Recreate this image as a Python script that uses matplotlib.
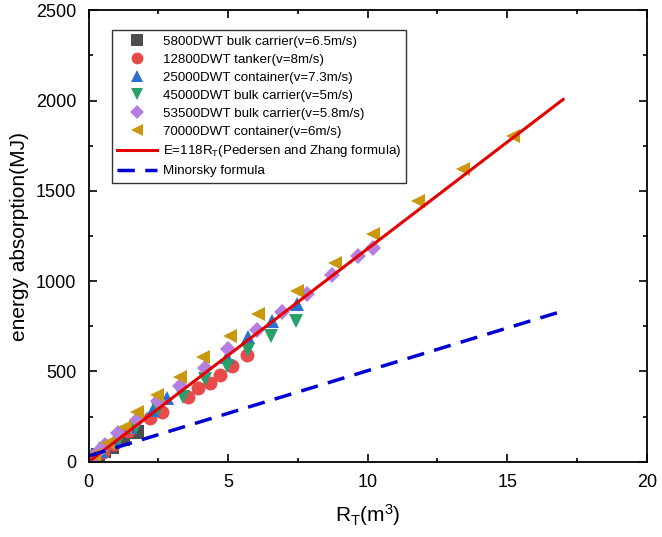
import numpy as np
import matplotlib
matplotlib.use("Agg")
import matplotlib.pyplot as plt
from matplotlib.ticker import MultipleLocator

plt.rcParams['font.family'] = ['Liberation Sans', 'DejaVu Sans']
plt.rcParams['mathtext.default'] = 'regular'

# 5800DWT bulk carrier
x_5800 = [0.15, 0.35, 0.55, 0.82, 1.22, 1.72]
y_5800 = [15, 40, 62, 83, 128, 167]
# 12800DWT tanker
x_12800 = [0.2, 0.5, 0.9, 1.4, 2.2, 2.62, 3.55, 3.91, 4.34, 4.7, 5.13, 5.66]
y_12800 = [20, 55, 100, 170, 244, 278, 361, 406, 439, 483, 528, 589]
# 25000DWT container
x_25000 = [0.15, 0.45, 0.9, 1.47, 2.29, 2.8, 4.95, 5.7, 6.56, 7.46]
y_25000 = [20, 60, 115, 190, 289, 356, 583, 689, 778, 872]
# 45000DWT bulk carrier
x_45000 = [0.2, 0.6, 1.1, 1.7, 2.5, 3.37, 4.16, 4.95, 5.7, 6.52, 7.42]
y_45000 = [25, 70, 125, 190, 290, 361, 456, 528, 617, 694, 778]
# 53500DWT bulk carrier
x_53500 = [0.1, 0.32, 0.57, 1.04, 1.72, 2.47, 3.26, 4.16, 4.98, 6.02, 6.92, 7.81, 8.71, 9.64, 10.18]
y_53500 = [20, 56, 94, 161, 233, 339, 422, 522, 622, 728, 828, 928, 1033, 1139, 1183]
# 70000DWT container
x_70000 = [0.2, 0.68, 1.29, 1.72, 2.44, 3.26, 4.09, 5.05, 6.06, 7.46, 8.82, 10.2, 11.8, 13.4, 15.2]
y_70000 = [40, 106, 194, 278, 372, 472, 583, 694, 817, 944, 1100, 1261, 1444, 1622, 1805]

series = [
    (x_5800, y_5800, 's', '#4d4d4d', '5800DWT bulk carrier(v=6.5m/s)'),
    (x_12800, y_12800, 'o', '#e84a4a', '12800DWT tanker(v=8m/s)'),
    (x_25000, y_25000, '^', '#2a70d0', '25000DWT container(v=7.3m/s)'),
    (x_45000, y_45000, 'v', '#27a06a', '45000DWT bulk carrier(v=5m/s)'),
    (x_53500, y_53500, 'D', '#b57fe0', '53500DWT bulk carrier(v=5.8m/s)'),
    (x_70000, y_70000, '<', '#c9980e', '70000DWT container(v=6m/s)'),
]

rt = np.array([0, 17])

fig = plt.figure(figsize=(6.62, 5.37), dpi=100)
ax = fig.add_axes([0.134, 0.140, 0.843, 0.841])

for xs, ys, m, c, lab in series:
    ms = 8 if m == 'D' else 10
    ax.plot(xs, ys, linestyle='none', marker=m, color=c, markersize=ms,
            markeredgewidth=0, label=lab)

ax.plot(rt, 118 * rt, color='#e60000', lw=2.2,
        label='E=118R$_T$(Pedersen and Zhang formula)')
ax.plot(rt, 47.2 * rt + 32.7, color='#0000d0', lw=2.5, linestyle=(0, (5, 3)),
        label='Minorsky formula')

ax.set_xlim(0, 20)
ax.set_ylim(0, 2500)
ax.xaxis.set_major_locator(MultipleLocator(5))
ax.xaxis.set_minor_locator(MultipleLocator(2.5))
ax.yaxis.set_major_locator(MultipleLocator(500))
ax.yaxis.set_minor_locator(MultipleLocator(250))
ax.tick_params(which='both', direction='in', top=True, right=True, labelsize=13, pad=9)
ax.tick_params(which='major', length=6, width=1.2)
ax.tick_params(which='minor', length=3, width=1.2)
for sp in ax.spines.values():
    sp.set_linewidth(1.3)

ax.set_xlabel('R$_T$(m$^3$)', fontsize=15, labelpad=8)
ax.set_ylabel('energy absorption(MJ)', fontsize=15, labelpad=5)

leg = ax.legend(loc='upper left', bbox_to_anchor=(0.03, 0.97), fontsize=9.6,
                frameon=True, fancybox=False, edgecolor='black',
                handlelength=3, labelspacing=0.42, borderpad=0.4,
                handletextpad=0.4, markerscale=0.85)
leg.get_frame().set_linewidth(1.0)

fig.savefig('out.png', dpi=100)
